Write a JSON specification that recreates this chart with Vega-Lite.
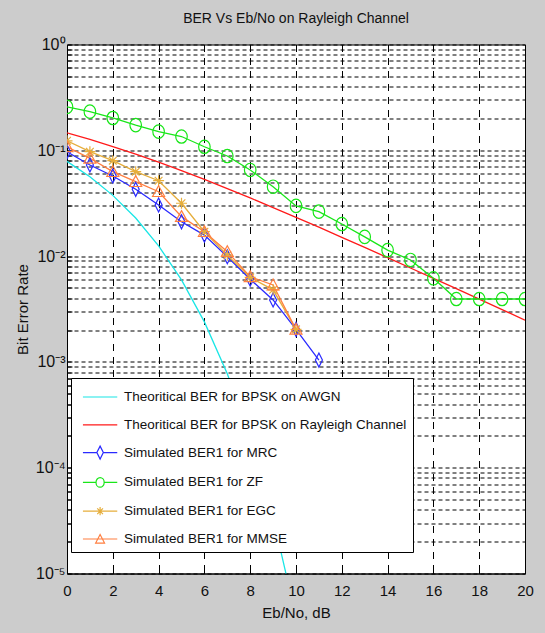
{
  "$schema": "https://vega.github.io/schema/vega-lite/v6.json",
  "width": 458,
  "height": 529,
  "autosize": {"type": "none"},
  "padding": {"left": 67, "top": 44.5, "right": 20, "bottom": 59.5},
  "background": "#cccccc",
  "config": {
    "view": {"fill": "white", "stroke": "black", "strokeWidth": 1},
    "font": "Liberation Sans"
  },
  "title": {"text": "BER Vs Eb/No on Rayleigh Channel", "fontSize": 14, "fontWeight": "normal", "font": "Liberation Sans", "color": "#111", "anchor": "middle", "baseline": "middle", "offset": 4},
  "resolve": {"scale": {"color": "independent", "shape": "independent"}, "legend": {"color": "independent", "shape": "independent"}},
  "data": {"values": [
    {"x": 0, "ber": 0.0786, "series": "Theoritical BER for BPSK on AWGN"},
    {"x": 1, "ber": 0.0563, "series": "Theoritical BER for BPSK on AWGN"},
    {"x": 2, "ber": 0.0375, "series": "Theoritical BER for BPSK on AWGN"},
    {"x": 3, "ber": 0.0229, "series": "Theoritical BER for BPSK on AWGN"},
    {"x": 4, "ber": 0.0125, "series": "Theoritical BER for BPSK on AWGN"},
    {"x": 5, "ber": 0.00595, "series": "Theoritical BER for BPSK on AWGN"},
    {"x": 6, "ber": 0.00239, "series": "Theoritical BER for BPSK on AWGN"},
    {"x": 7, "ber": 0.000773, "series": "Theoritical BER for BPSK on AWGN"},
    {"x": 8, "ber": 0.000191, "series": "Theoritical BER for BPSK on AWGN"},
    {"x": 9, "ber": 0.0000336, "series": "Theoritical BER for BPSK on AWGN"},
    {"x": 10, "ber": 0.00000387, "series": "Theoritical BER for BPSK on AWGN"},
    {"x": 0, "ber": 0.14645, "series": "Theoritical BER for BPSK on Rayleigh Channel"},
    {"x": 1, "ber": 0.12673, "series": "Theoritical BER for BPSK on Rayleigh Channel"},
    {"x": 2, "ber": 0.10848, "series": "Theoritical BER for BPSK on Rayleigh Channel"},
    {"x": 3, "ber": 0.09192, "series": "Theoritical BER for BPSK on Rayleigh Channel"},
    {"x": 4, "ber": 0.07714, "series": "Theoritical BER for BPSK on Rayleigh Channel"},
    {"x": 5, "ber": 0.06418, "series": "Theoritical BER for BPSK on Rayleigh Channel"},
    {"x": 6, "ber": 0.053, "series": "Theoritical BER for BPSK on Rayleigh Channel"},
    {"x": 7, "ber": 0.04348, "series": "Theoritical BER for BPSK on Rayleigh Channel"},
    {"x": 8, "ber": 0.03546, "series": "Theoritical BER for BPSK on Rayleigh Channel"},
    {"x": 9, "ber": 0.02878, "series": "Theoritical BER for BPSK on Rayleigh Channel"},
    {"x": 10, "ber": 0.02327, "series": "Theoritical BER for BPSK on Rayleigh Channel"},
    {"x": 11, "ber": 0.01875, "series": "Theoritical BER for BPSK on Rayleigh Channel"},
    {"x": 12, "ber": 0.01506, "series": "Theoritical BER for BPSK on Rayleigh Channel"},
    {"x": 13, "ber": 0.01208, "series": "Theoritical BER for BPSK on Rayleigh Channel"},
    {"x": 14, "ber": 0.00967, "series": "Theoritical BER for BPSK on Rayleigh Channel"},
    {"x": 15, "ber": 0.00772, "series": "Theoritical BER for BPSK on Rayleigh Channel"},
    {"x": 16, "ber": 0.00617, "series": "Theoritical BER for BPSK on Rayleigh Channel"},
    {"x": 17, "ber": 0.00492, "series": "Theoritical BER for BPSK on Rayleigh Channel"},
    {"x": 18, "ber": 0.00392, "series": "Theoritical BER for BPSK on Rayleigh Channel"},
    {"x": 19, "ber": 0.00312, "series": "Theoritical BER for BPSK on Rayleigh Channel"},
    {"x": 20, "ber": 0.00248, "series": "Theoritical BER for BPSK on Rayleigh Channel"},
    {"x": 0, "ber": 0.097, "series": "Simulated BER1 for MRC"},
    {"x": 1, "ber": 0.0726, "series": "Simulated BER1 for MRC"},
    {"x": 2, "ber": 0.0572, "series": "Simulated BER1 for MRC"},
    {"x": 3, "ber": 0.0428, "series": "Simulated BER1 for MRC"},
    {"x": 4, "ber": 0.0304, "series": "Simulated BER1 for MRC"},
    {"x": 5, "ber": 0.0211, "series": "Simulated BER1 for MRC"},
    {"x": 6, "ber": 0.0158, "series": "Simulated BER1 for MRC"},
    {"x": 7, "ber": 0.00986, "series": "Simulated BER1 for MRC"},
    {"x": 8, "ber": 0.00604, "series": "Simulated BER1 for MRC"},
    {"x": 9, "ber": 0.00385, "series": "Simulated BER1 for MRC"},
    {"x": 10, "ber": 0.00203, "series": "Simulated BER1 for MRC"},
    {"x": 11, "ber": 0.00104, "series": "Simulated BER1 for MRC"},
    {"x": 0, "ber": 0.257, "series": "Simulated BER1 for ZF"},
    {"x": 1, "ber": 0.232, "series": "Simulated BER1 for ZF"},
    {"x": 2, "ber": 0.202, "series": "Simulated BER1 for ZF"},
    {"x": 3, "ber": 0.173, "series": "Simulated BER1 for ZF"},
    {"x": 4, "ber": 0.15, "series": "Simulated BER1 for ZF"},
    {"x": 5, "ber": 0.135, "series": "Simulated BER1 for ZF"},
    {"x": 6, "ber": 0.108, "series": "Simulated BER1 for ZF"},
    {"x": 7, "ber": 0.0883, "series": "Simulated BER1 for ZF"},
    {"x": 8, "ber": 0.0652, "series": "Simulated BER1 for ZF"},
    {"x": 9, "ber": 0.0453, "series": "Simulated BER1 for ZF"},
    {"x": 10, "ber": 0.0298, "series": "Simulated BER1 for ZF"},
    {"x": 11, "ber": 0.0263, "series": "Simulated BER1 for ZF"},
    {"x": 12, "ber": 0.0201, "series": "Simulated BER1 for ZF"},
    {"x": 13, "ber": 0.0152, "series": "Simulated BER1 for ZF"},
    {"x": 14, "ber": 0.0114, "series": "Simulated BER1 for ZF"},
    {"x": 15, "ber": 0.00919, "series": "Simulated BER1 for ZF"},
    {"x": 16, "ber": 0.00617, "series": "Simulated BER1 for ZF"},
    {"x": 17, "ber": 0.00393, "series": "Simulated BER1 for ZF"},
    {"x": 18, "ber": 0.00393, "series": "Simulated BER1 for ZF"},
    {"x": 19, "ber": 0.00393, "series": "Simulated BER1 for ZF"},
    {"x": 20, "ber": 0.00393, "series": "Simulated BER1 for ZF"},
    {"x": 0, "ber": 0.123, "series": "Simulated BER1 for EGC"},
    {"x": 1, "ber": 0.097, "series": "Simulated BER1 for EGC"},
    {"x": 2, "ber": 0.0798, "series": "Simulated BER1 for EGC"},
    {"x": 3, "ber": 0.0628, "series": "Simulated BER1 for EGC"},
    {"x": 4, "ber": 0.0516, "series": "Simulated BER1 for EGC"},
    {"x": 5, "ber": 0.0316, "series": "Simulated BER1 for EGC"},
    {"x": 6, "ber": 0.017, "series": "Simulated BER1 for EGC"},
    {"x": 7, "ber": 0.0102, "series": "Simulated BER1 for EGC"},
    {"x": 8, "ber": 0.0063, "series": "Simulated BER1 for EGC"},
    {"x": 9, "ber": 0.0048, "series": "Simulated BER1 for EGC"},
    {"x": 10, "ber": 0.00203, "series": "Simulated BER1 for EGC"},
    {"x": 0, "ber": 0.108, "series": "Simulated BER1 for MMSE"},
    {"x": 1, "ber": 0.084, "series": "Simulated BER1 for MMSE"},
    {"x": 2, "ber": 0.0628, "series": "Simulated BER1 for MMSE"},
    {"x": 3, "ber": 0.0505, "series": "Simulated BER1 for MMSE"},
    {"x": 4, "ber": 0.0406, "series": "Simulated BER1 for MMSE"},
    {"x": 5, "ber": 0.0236, "series": "Simulated BER1 for MMSE"},
    {"x": 6, "ber": 0.017, "series": "Simulated BER1 for MMSE"},
    {"x": 7, "ber": 0.011, "series": "Simulated BER1 for MMSE"},
    {"x": 8, "ber": 0.00638, "series": "Simulated BER1 for MMSE"},
    {"x": 9, "ber": 0.00533, "series": "Simulated BER1 for MMSE"},
    {"x": 10, "ber": 0.00203, "series": "Simulated BER1 for MMSE"}
  ]},
  "encoding": {
    "x": {"field": "x", "type": "quantitative", "scale": {"domain": [0, 20], "nice": false, "zero": false},
      "axis": {"values": [0, 2, 4, 6, 8, 10, 12, 14, 16, 18, 20], "title": "Eb/No, dB", "grid": true, "gridColor": "black", "gridDash": [7, 6], "gridOpacity": 1, "gridWidth": 1,
        "domainColor": "black", "tickColor": "black", "tickSize": -8, "tickWidth": 1, "labelFontSize": 15, "labelColor": "#111", "labelFont": "Liberation Sans", "labelPadding": 18, "labelFlush": false, "labelOverlap": false,
        "titleFontSize": 15, "titleFontWeight": "normal", "titleColor": "#111", "titleFont": "Liberation Sans", "titleY": 38.5, "titleBaseline": "middle"}},
    "y": {"field": "ber", "type": "quantitative", "scale": {"type": "log", "domain": [0.00001, 1], "nice": false},
      "axis": {"values": [0.00001, 0.00002, 0.00003, 0.00004, 0.00005, 0.00006, 0.00007, 0.00008, 0.00009, 0.0001, 0.0002, 0.0003, 0.0004, 0.0005, 0.0006, 0.0007, 0.0008, 0.0009, 0.001, 0.002, 0.003, 0.004, 0.005, 0.006, 0.007, 0.008, 0.009, 0.01, 0.02, 0.03, 0.04, 0.05, 0.06, 0.07, 0.08, 0.09, 0.1, 0.2, 0.3, 0.4, 0.5, 0.6, 0.7, 0.8, 0.9, 1],
        "labelExpr": "abs(log(datum.value)/LN10 - round(log(datum.value)/LN10)) > 0.001 ? '' : (round(log(datum.value)/LN10) == 0 ? '10⁰' : '10⁻' + ['','¹','²','³','⁴','⁵'][-round(log(datum.value)/LN10)])",
        "title": "Bit Error Rate", "grid": true, "gridColor": "black", "gridDash": [4, 3], "gridOpacity": 1, "gridWidth": 1,
        "domainColor": "black", "tickColor": "black", "tickSize": -5, "tickWidth": 1, "labelFontSize": 16, "labelColor": "#111", "labelFont": "Liberation Sans", "labelPadding": 7, "labelOverlap": false, "labelBound": false, "labelFlush": false,
        "titleFontSize": 15, "titleFontWeight": "normal", "titleColor": "#111", "titleFont": "Liberation Sans", "titleX": -45, "titleY": 264.5, "titleAngle": 270, "titleAlign": "center", "titleBaseline": "middle"}}
  },
  "layer": [
    {"mark": {"type": "line", "strokeWidth": 1.3, "clip": true},
     "encoding": {"color": {"field": "series", "type": "nominal", "legend": null,
       "scale": {"domain": ["Theoritical BER for BPSK on AWGN", "Theoritical BER for BPSK on Rayleigh Channel", "Simulated BER1 for MRC", "Simulated BER1 for ZF", "Simulated BER1 for EGC", "Simulated BER1 for MMSE"],
                 "range": ["#19e6e6", "#ff1a1a", "#2a2aff", "#19e619", "#e6ae3c", "#ff7f40"]}}}},
    {"transform": [{"filter": "datum.series === 'Simulated BER1 for MRC'"}],
     "mark": {"type": "point", "shape": "M0,-1L0.5,0L0,1L-0.5,0Z", "size": 196, "filled": false, "strokeWidth": 1.2, "opacity": 1, "clip": true},
     "encoding": {"color": {"field": "series", "type": "nominal", "legend": null,
       "scale": {"domain": ["Theoritical BER for BPSK on AWGN", "Theoritical BER for BPSK on Rayleigh Channel", "Simulated BER1 for MRC", "Simulated BER1 for ZF", "Simulated BER1 for EGC", "Simulated BER1 for MMSE"],
                 "range": ["#19e6e6", "#ff1a1a", "#2a2aff", "#19e619", "#e6ae3c", "#ff7f40"]}}}},
    {"transform": [{"filter": "datum.series === 'Simulated BER1 for ZF'"}],
     "mark": {"type": "point", "shape": "M-0.86,0A0.86,1,0,1,0,0.86,0A0.86,1,0,1,0,-0.86,0Z", "size": 180, "filled": false, "strokeWidth": 1.2, "opacity": 1, "clip": true},
     "encoding": {"color": {"field": "series", "type": "nominal", "legend": null,
       "scale": {"domain": ["Theoritical BER for BPSK on AWGN", "Theoritical BER for BPSK on Rayleigh Channel", "Simulated BER1 for MRC", "Simulated BER1 for ZF", "Simulated BER1 for EGC", "Simulated BER1 for MMSE"],
                 "range": ["#19e6e6", "#ff1a1a", "#2a2aff", "#19e619", "#e6ae3c", "#ff7f40"]}}}},
    {"transform": [{"filter": "datum.series === 'Simulated BER1 for EGC'"}],
     "mark": {"type": "point", "shape": "M-1,0H1M0,-1V1M-0.7,-0.7L0.7,0.7M-0.7,0.7L0.7,-0.7", "size": 121, "filled": false, "strokeWidth": 1.2, "opacity": 1, "clip": true},
     "encoding": {"color": {"field": "series", "type": "nominal", "legend": null,
       "scale": {"domain": ["Theoritical BER for BPSK on AWGN", "Theoritical BER for BPSK on Rayleigh Channel", "Simulated BER1 for MRC", "Simulated BER1 for ZF", "Simulated BER1 for EGC", "Simulated BER1 for MMSE"],
                 "range": ["#19e6e6", "#ff1a1a", "#2a2aff", "#19e619", "#e6ae3c", "#ff7f40"]}}}},
    {"transform": [{"filter": "datum.series === 'Simulated BER1 for MMSE'"}],
     "mark": {"type": "point", "shape": "M0,-1L1,0.8L-1,0.8Z", "size": 144, "filled": false, "strokeWidth": 1.2, "opacity": 1, "clip": true},
     "encoding": {"color": {"field": "series", "type": "nominal", "legend": null,
       "scale": {"domain": ["Theoritical BER for BPSK on AWGN", "Theoritical BER for BPSK on Rayleigh Channel", "Simulated BER1 for MRC", "Simulated BER1 for ZF", "Simulated BER1 for EGC", "Simulated BER1 for MMSE"],
                 "range": ["#19e6e6", "#ff1a1a", "#2a2aff", "#19e619", "#e6ae3c", "#ff7f40"]}}}},
    {"mark": {"type": "point", "filled": false, "opacity": 0, "clip": true},
     "encoding": {
       "color": {"field": "series", "type": "nominal",
         "scale": {"domain": ["Theoritical BER for BPSK on AWGN", "Theoritical BER for BPSK on Rayleigh Channel", "Simulated BER1 for MRC", "Simulated BER1 for ZF", "Simulated BER1 for EGC", "Simulated BER1 for MMSE"],
                   "range": ["#19e6e6", "#ff1a1a", "#2a2aff", "#19e619", "#e6ae3c", "#ff7f40"]},
         "legend": {"title": null, "orient": "none", "legendX": 4, "legendY": 333.5, "padding": 6, "strokeColor": "black", "fillColor": "white", "cornerRadius": 0,
           "symbolSize": 576, "symbolStrokeWidth": 1.2, "symbolOpacity": 1, "symbolFillColor": "transparent", "symbolOffset": 10.1, "labelOffset": 11,
           "labelFontSize": 13.5, "labelFont": "Liberation Sans", "labelColor": "#111", "labelLimit": 0, "rowPadding": 7.8}},
       "shape": {"field": "series", "type": "nominal",
         "scale": {"domain": ["Theoritical BER for BPSK on AWGN", "Theoritical BER for BPSK on Rayleigh Channel", "Simulated BER1 for MRC", "Simulated BER1 for ZF", "Simulated BER1 for EGC", "Simulated BER1 for MMSE"],
                   "range": ["M-1.43,0H1.43", "M-1.43,0H1.43",
                             "M-1.43,0H-0.27M0.27,0H1.43M0,-0.54L0.27,0L0,0.54L-0.27,0Z",
                             "M-1.43,0H-0.34M0.34,0H1.43M-0.34,0A0.34,0.4,0,1,0,0.34,0A0.34,0.4,0,1,0,-0.34,0Z",
                             "M-1.43,0H1.43M0,-0.34V0.34M-0.24,-0.24L0.24,0.24M-0.24,0.24L0.24,-0.24",
                             "M-1.43,0H1.43M0,-0.37L0.37,0.34L-0.37,0.34Z"]},
         "legend": {"title": null, "orient": "none", "legendX": 4, "legendY": 333.5, "padding": 6, "strokeColor": "black", "fillColor": "white", "cornerRadius": 0,
           "symbolSize": 576, "symbolStrokeWidth": 1.2, "symbolOpacity": 1, "symbolFillColor": "transparent", "symbolOffset": 10.1, "labelOffset": 11,
           "labelFontSize": 13.5, "labelFont": "Liberation Sans", "labelColor": "#111", "labelLimit": 0, "rowPadding": 7.8}}
     }}
  ]
}
